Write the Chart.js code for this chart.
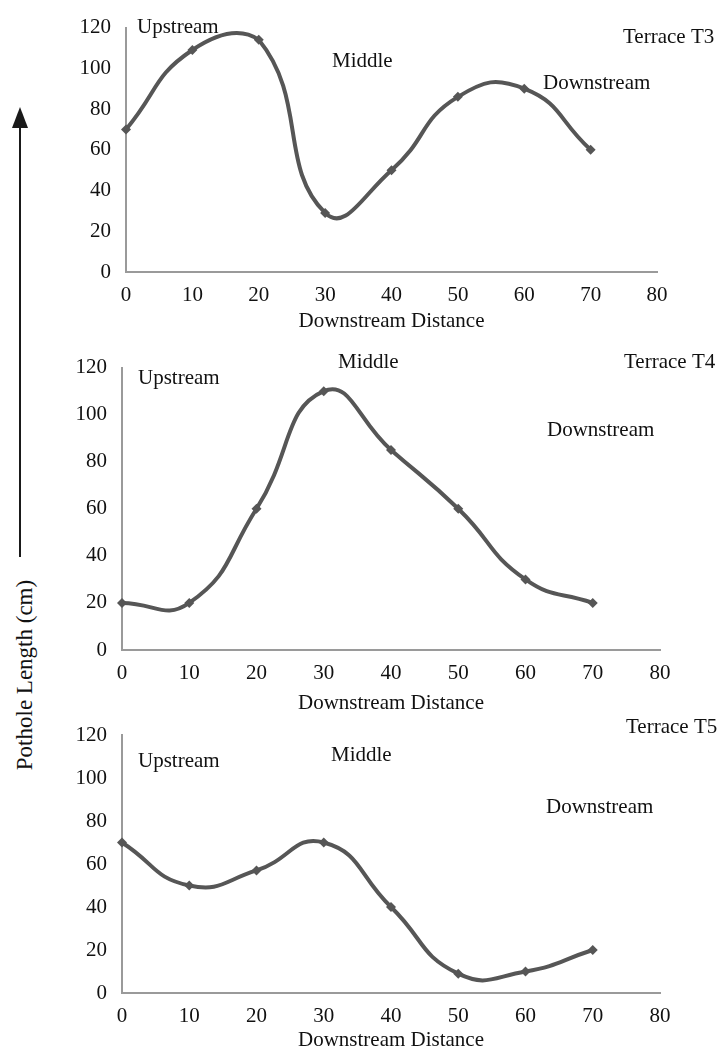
<!DOCTYPE html>
<html>
<head>
<meta charset="utf-8">
<script src="https://cdn.jsdelivr.net/npm/chart.js@4"></script>
<style>
  html, body { margin: 0; padding: 0; background: #fff; overflow: hidden; }
  body { width: 720px; height: 1049px; position: relative; font-family: 'Liberation Serif', 'Times New Roman', serif; }
  .panel { position: absolute; left: 0; width: 720px; }
  #ylabel {
    position: absolute; left: 25px; top: 675px; white-space: nowrap;
    font-size: 23px; color: #111;
    transform: translate(-50%, -50%) rotate(-90deg);
  }
  #arrow { position: absolute; left: 0; top: 0; }
</style>
</head>
<body>
<svg id="arrow" width="40" height="600">
  <line x1="20" y1="125" x2="20" y2="557" stroke="#1a1a1a" stroke-width="2"/>
  <polygon points="12,128 20,107 28,128" fill="#1a1a1a"/>
</svg>
<div id="ylabel">Pothole Length (cm)</div>

<div class="panel" style="top:0px;height:340px"><canvas id="grafT3"></canvas></div>
<div class="panel" style="top:340px;height:380px"><canvas id="grafT4"></canvas></div>
<div class="panel" style="top:700px;height:360px"><canvas id="grafT5"></canvas></div>

<script>
// Datos
const distancia = [0, 10, 20, 30, 40, 50, 60, 70];
const terrazaT3 = [70, 109, 114, 29, 50, 86, 90, 60];
const terrazaT4 = [20, 20, 60, 110, 85, 60, 30, 20];
const terrazaT5 = [70, 50, 57, 70, 40, 9, 10, 20];
const tituloX = 'Downstream Distance';
const nombres = ['Terrace T3', 'Terrace T4', 'Terrace T5'];
const zonas = ['Upstream', 'Middle', 'Downstream'];

const fuente = "'Liberation Serif', 'Times New Roman', serif";
const colorLinea = '#565656';

// Texto sobre el grafico (posiciones en px del canvas)
const textos = {
    id: 'textos',
    afterDraw(chart, args, opts) {
        const ctx = chart.ctx;
        ctx.save();
        ctx.font = '21px ' + fuente;
        ctx.fillStyle = '#111';
        ctx.textBaseline = 'alphabetic';
        ctx.textAlign = 'left';
        opts.items.forEach(t => ctx.fillText(t.text, t.x, t.y));
        ctx.restore();
    }
};

function crearGrafico(id, valores, caja, items) {
    const ctx = document.getElementById(id).getContext('2d');
    return new Chart(ctx, {
        type: 'line',
        data: {
            datasets: [{
                data: distancia.map((d, i) => ({ x: d, y: valores[i] })),
                borderColor: colorLinea,
                backgroundColor: colorLinea,
                borderWidth: 4,
                tension: 0.5,
                pointStyle: 'rectRot',
                pointRadius: 5,
                pointBorderWidth: 0,
                clip: false
            }]
        },
        options: {
            responsive: true,
            maintainAspectRatio: false,
            animation: false,
            layout: { padding: { left: caja.left - 60, right: 720 - caja.right, top: caja.top, bottom: 0 } },
            plugins: {
                legend: { display: false },
                tooltip: { enabled: false },
                textos: { items: items }
            },
            scales: {
                x: {
                    type: 'linear', min: 0, max: 80,
                    grid: { display: false, drawTicks: false },
                    border: { display: true, color: '#9a9a9a', width: 2 },
                    ticks: { stepSize: 10, padding: 11, color: '#111', font: { family: fuente, size: 21 } },
                    title: { display: true, text: tituloX, color: '#111', font: { family: fuente, size: 21 }, padding: { top: 0, bottom: caja.titlePad } },
                    afterFit: s => { s.height = caja.xHeight; }
                },
                y: {
                    min: 0, max: 120,
                    grid: { display: false, drawTicks: false },
                    border: { display: true, color: '#9a9a9a', width: 2 },
                    ticks: { stepSize: 20, padding: 15, color: '#111', font: { family: fuente, size: 21 } },
                    afterFit: s => { s.width = 60; }
                }
            }
        },
        plugins: [textos]
    });
}

crearGrafico('grafT3', terrazaT3,
    { left: 126, right: 657, top: 25, xHeight: 68, titlePad: 6.4 },
    [
        { text: zonas[0], x: 137, y: 33 },
        { text: zonas[1], x: 332, y: 67 },
        { text: nombres[0], x: 623, y: 43 },
        { text: zonas[2], x: 543, y: 89 }
    ]);

crearGrafico('grafT4', terrazaT4,
    { left: 122, right: 660, top: 17, xHeight: 70, titlePad: 4.4 },
    [
        { text: zonas[0], x: 138, y: 44 },
        { text: zonas[1], x: 338, y: 28 },
        { text: nombres[1], x: 624, y: 28 },
        { text: zonas[2], x: 547, y: 96 }
    ]);

crearGrafico('grafT5', terrazaT5,
    { left: 122, right: 660, top: 35, xHeight: 67, titlePad: 7.4 },
    [
        { text: zonas[0], x: 138, y: 67 },
        { text: zonas[1], x: 331, y: 61 },
        { text: nombres[2], x: 626, y: 33 },
        { text: zonas[2], x: 546, y: 113 }
    ]);
</script>
</body>
</html>
